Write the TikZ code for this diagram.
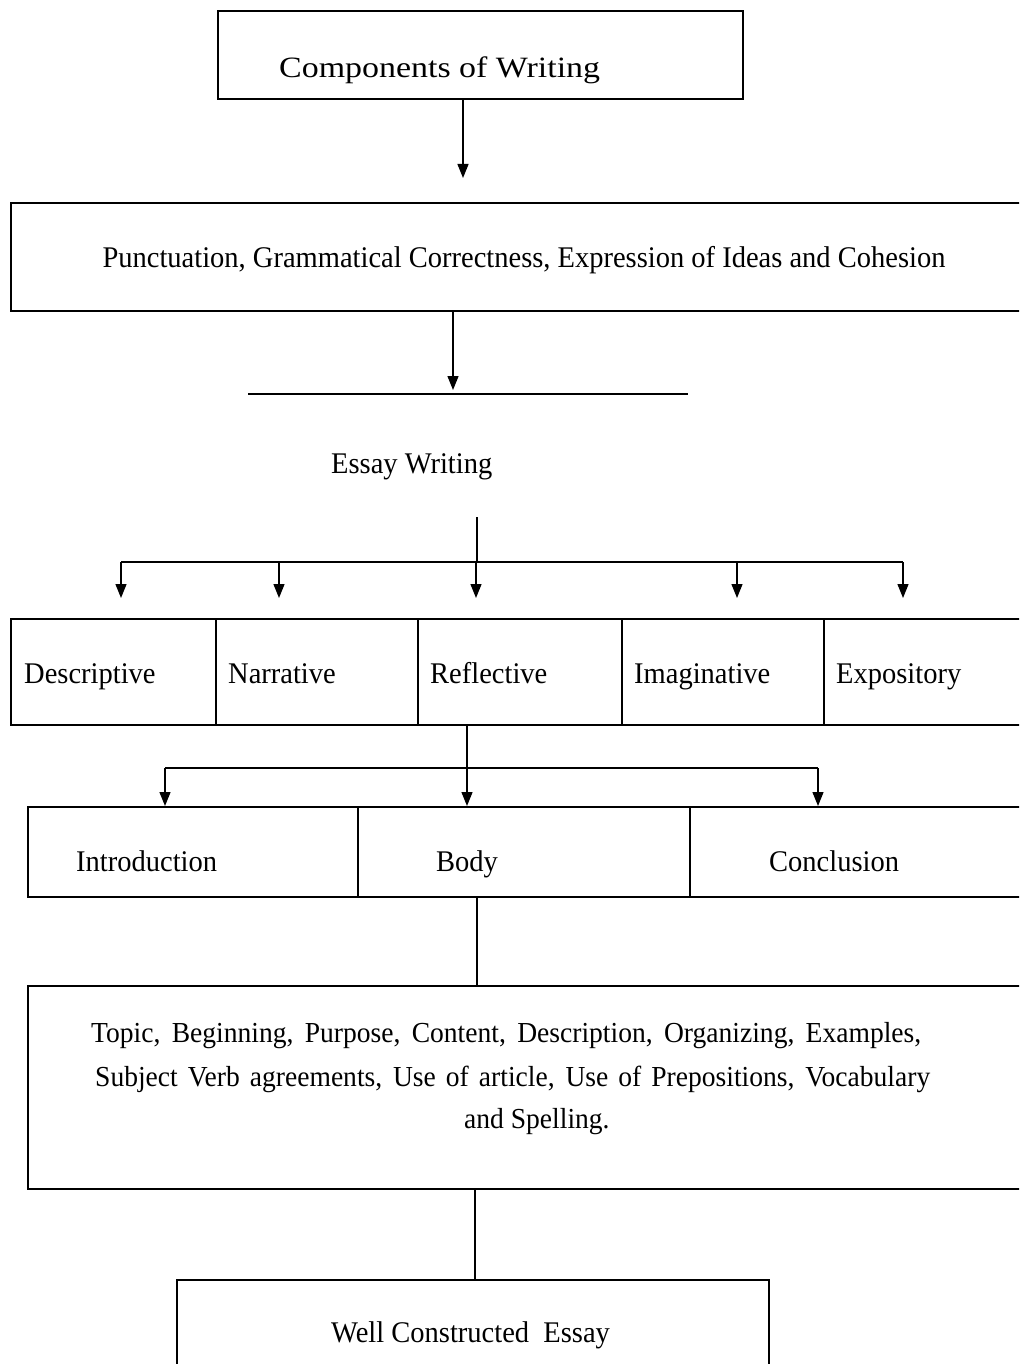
\documentclass[tikz,border=0pt]{standalone}
\usepackage{fontspec}
\setmainfont[FakeStretch=0.95]{Liberation Serif}
\newfontfamily\widefont[FakeStretch=1.15]{Liberation Serif}
\usetikzlibrary{arrows.meta}
\begin{document}
\begin{tikzpicture}[x=1pt,y=-1pt,
  box/.style={draw, line width=1.7pt, rectangle, inner sep=0pt, anchor=north west},
  conn/.style={line width=1.3pt},
  arr/.style={line width=1.3pt, -{Triangle[length=14pt,width=11pt]}},
  txt/.style={inner sep=0pt, anchor=base west, font=\fontsize{30pt}{36pt}\selectfont},
  ptxt/.style={inner sep=0pt, anchor=base west, font=\fontsize{29pt}{34pt}\selectfont}]
\useasboundingbox (0,0) rectangle (1019,1364);
\fill[white] (0,0) rectangle (1019,1364);
\clip (0,0) rectangle (1019,1364);

% boxes
\node[box, minimum width=525pt, minimum height=88pt] (top) at (217,10) {};
\node[box, minimum width=1020pt, minimum height=108pt] (pun) at (10,202) {};
\node[box, minimum width=205pt, minimum height=106pt] (desc) at (10,618) {};
\node[box, minimum width=202pt, minimum height=106pt] (narr) at (215,618) {};
\node[box, minimum width=204pt, minimum height=106pt] (refl) at (417,618) {};
\node[box, minimum width=202pt, minimum height=106pt] (imag) at (621,618) {};
\node[box, minimum width=207pt, minimum height=106pt] (expo) at (823,618) {};
\node[box, minimum width=330pt, minimum height=90pt] (intro) at (27,806) {};
\node[box, minimum width=332pt, minimum height=90pt] (body) at (357,806) {};
\node[box, minimum width=341pt, minimum height=90pt] (concl) at (689,806) {};
\node[box, minimum width=1003pt, minimum height=203pt] (big) at (27,985) {};
\node[box, minimum width=592pt, minimum height=140pt] (well) at (176,1279) {};

% texts
\node[txt, font=\widefont\fontsize{29.5pt}{36pt}\selectfont] (ttop) at (279,78) {Components of Writing};
\node[txt, anchor=base] (tpun) at (524,267) {Punctuation, Grammatical Correctness, Expression of Ideas and Cohesion};
\node[txt] (tess) at (331,473) {Essay Writing};
\node[txt] (tdesc) at (24,683) {Descriptive};
\node[txt] (tnarr) at (228,683) {Narrative};
\node[txt] (trefl) at (430,683) {Reflective};
\node[txt] (timag) at (634,683) {Imaginative};
\node[txt] (texpo) at (836,683) {Expository};
\node[txt] (tintro) at (76,871) {Introduction};
\node[txt] (tbody) at (436,871) {Body};
\node[txt] (tconcl) at (769,871) {Conclusion};
\node[ptxt] (p1) at (91,1042) {\makebox[830pt][s]{Topic, Beginning, Purpose, Content, Description, Organizing, Examples,}};
\node[ptxt] (p2) at (95,1086) {\makebox[835pt][s]{Subject Verb agreements, Use of article, Use of Prepositions, Vocabulary}};
\node[ptxt] (p3) at (464,1128) {and Spelling.};
\node[txt] (twell) at (331,1342) {Well Constructed\ \ Essay};

% connectors
\coordinate (a1) at (463,178);
\draw[arr] (top.south -| a1) -- (a1);

\coordinate (a2) at (453,390);
\draw[arr] (pun.south -| a2) -- (a2);
\coordinate (l1) at (248,394);
\coordinate (l2) at (688,394);
\draw[conn] (l1) -- (l2);

\coordinate (s1) at (477,517);
\coordinate (s2) at (477,562);
\draw[conn] (s1) -- (s2);
\coordinate (h1) at (121,562);
\coordinate (h2) at (279,562);
\coordinate (h3) at (476,562);
\coordinate (h4) at (737,562);
\coordinate (h5) at (903,562);
\draw[conn] (h1) -- (h5);
\foreach \c in {h1,h2,h3,h4,h5}{
  \draw[arr] (\c) -- ++(0,36);
}

\coordinate (v1) at (467,768);
\draw[conn] (refl.south -| v1) -- (v1);
\coordinate (g1) at (165,768);
\coordinate (g3) at (818,768);
\draw[conn] (g1) -- (g3);
\draw[arr] (g1) -- (g1 |- intro.north);
\draw[arr] (v1) -- (v1 |- body.north);
\draw[arr] (g3) -- (g3 |- concl.north);

\coordinate (b1) at (477,0);
\draw[conn] (body.south -| b1) -- (b1 |- big.north);
\coordinate (b2) at (475,0);
\draw[conn] (big.south -| b2) -- (b2 |- well.north);
\end{tikzpicture}
\end{document}
